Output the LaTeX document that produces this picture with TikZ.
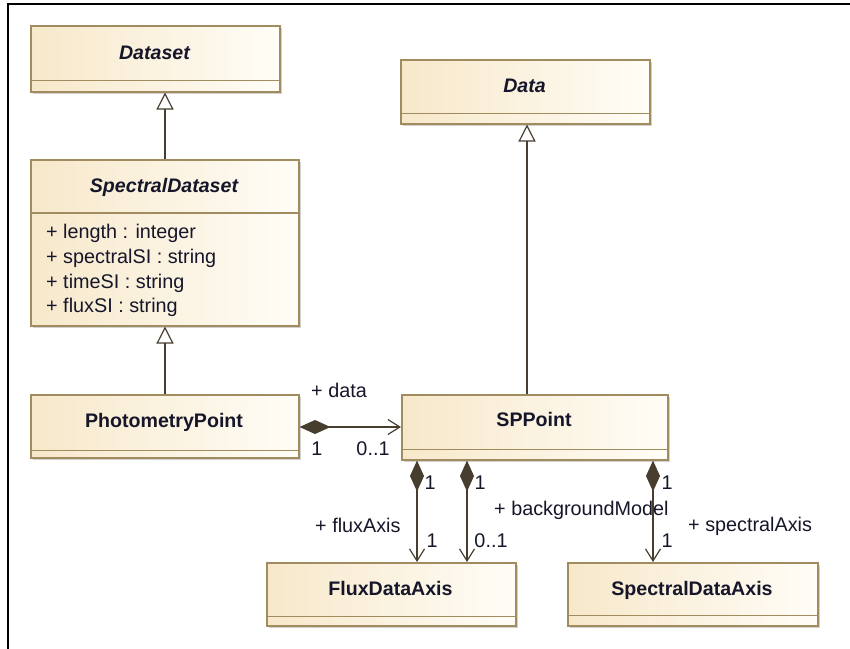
\documentclass[tikz,border=0pt]{standalone}
\usepackage{fontspec}
\setmainfont{Liberation Sans}
\usetikzlibrary{arrows.meta,shadows}
\definecolor{boxl}{RGB}{247,232,202}
\definecolor{boxr}{RGB}{255,253,247}
\definecolor{boxb}{RGB}{160,140,95}
\definecolor{txt}{RGB}{22,22,42}
\definecolor{lnk}{RGB}{72,62,48}
\begin{document}
\begin{tikzpicture}[x=1pt,y=-1pt,
  umlbox/.style={draw=boxb, line width=1.5pt, left color=boxl, right color=boxr,
    inner sep=0pt, anchor=north west,
    drop shadow={shadow xshift=1.8pt, shadow yshift=-1.8pt, fill=black, opacity=0.18}},
  divider/.style={draw=boxb, line width=1.2pt},
  ctitle/.style={font=\fontsize{19.6}{22}\selectfont\bfseries, text=txt, inner sep=0pt, anchor=base},
  atitle/.style={ctitle, font=\fontsize{19.6}{22}\selectfont\bfseries\itshape},
  attr/.style={font=\fontsize{19.8}{22}\selectfont, text=txt, inner sep=0pt, anchor=base west},
  lbl/.style={font=\fontsize{19.8}{22}\selectfont, text=txt, inner sep=0pt, anchor=base west},
  lblc/.style={lbl, anchor=base},
  conn/.style={draw=lnk, line width=1.4pt},
  gen/.style={conn, -{Triangle[open, length=17pt, width=17pt, fill=white, line width=1.2pt]}},
  comp/.style={conn, {Diamond[length=31pt, width=14pt, fill=lnk]}-{Straight Barb[length=12pt, width=15pt, line width=1.2pt]}}
]
\useasboundingbox (0,0) rectangle (850,648);
\fill[white] (0,0) rectangle (850,648);
% frame
\draw[line width=2pt, black] (851,4) -- (8,4) -- (8,649);

% boxes
\node[umlbox, minimum width=249pt, minimum height=66pt] (dataset) at (30,25) {};
\draw[divider] ([yshift=12pt]dataset.south west) -- ([yshift=12pt]dataset.south east);
\node[atitle] (datasetT) at (154.5,59) {Dataset};

\node[umlbox, minimum width=268pt, minimum height=166pt] (spectral) at (30,159) {};
\draw[divider] ([yshift=-54pt]spectral.north west) -- ([yshift=-54pt]spectral.north east);
\node[atitle] (spectralT) at (164,192) {SpectralDataset};
\node[attr] (a1) at (46,238.5) {+ length : integer};
\node[attr] (a2) at (46,263.5) {+ spectralSI : string};
\node[attr] (a3) at (46,288.5) {+ timeSI : string};
\node[attr] (a4) at (46,312.5) {+ fluxSI : string};

\node[umlbox, minimum width=268pt, minimum height=63pt] (photo) at (30,394) {};
\draw[divider] ([yshift=8pt]photo.south west) -- ([yshift=8pt]photo.south east);
\node[ctitle] (photoT) at (164,427) {PhotometryPoint};

\node[umlbox, minimum width=249pt, minimum height=64pt] (data) at (400,59) {};
\draw[divider] ([yshift=11pt]data.south west) -- ([yshift=11pt]data.south east);
\node[atitle] (dataT) at (524.5,92) {Data};

\node[umlbox, minimum width=266pt, minimum height=65pt] (sppoint) at (401,394) {};
\draw[divider] ([yshift=11pt]sppoint.south west) -- ([yshift=11pt]sppoint.south east);
\node[ctitle] (sppointT) at (534,426) {SPPoint};

\node[umlbox, minimum width=249pt, minimum height=63pt] (flux) at (266,562) {};
\draw[divider] ([yshift=10pt]flux.south west) -- ([yshift=10pt]flux.south east);
\node[ctitle] (fluxT) at (390.5,595) {FluxDataAxis};

\node[umlbox, minimum width=250pt, minimum height=63pt] (specaxis) at (567,562) {};
\draw[divider] ([yshift=11pt]specaxis.south west) -- ([yshift=11pt]specaxis.south east);
\node[ctitle] (specaxisT) at (692,595) {SpectralDataAxis};

% helper x positions
\coordinate (g1) at (165,0);
\coordinate (g2) at (527,0);
\coordinate (h1) at (0,427);
\coordinate (v1) at (417,0);
\coordinate (v2) at (467,0);
\coordinate (v3) at (653,0);

% generalizations
\draw[gen] (spectral.north -| g1) -- (dataset.south -| g1);
\draw[gen] (photo.north -| g1) -- (spectral.south -| g1);
\draw[gen] (sppoint.north -| g2) -- (data.south -| g2);

% compositions
\draw[comp] (photo.east |- h1) -- (sppoint.west |- h1);
\draw[comp] (sppoint.south -| v1) -- (flux.north -| v1);
\draw[comp] (sppoint.south -| v2) -- (flux.north -| v2);
\draw[comp] (sppoint.south -| v3) -- (specaxis.north -| v3);

% labels
\node[lbl] (ldata) at (311,397) {+ data};
\node[lblc] (ldm1) at (317,455) {1};
\node[lblc] (ldm2) at (373,455) {0..1};

\node[lblc] (lf1) at (430,489) {1};
\node[lbl] (lf) at (315,532) {+ fluxAxis};
\node[lblc] (lf2) at (432,547) {1};

\node[lblc] (lb1) at (480,489) {1};
\node[lbl] (lb) at (494,515) {+ backgroundModel};
\node[lblc] (lb2) at (491,547) {0..1};

\node[lblc] (ls1) at (667,489) {1};
\node[lbl] (ls) at (688,531) {+ spectralAxis};
\node[lblc] (ls2) at (667,547) {1};
\end{tikzpicture}
\end{document}
